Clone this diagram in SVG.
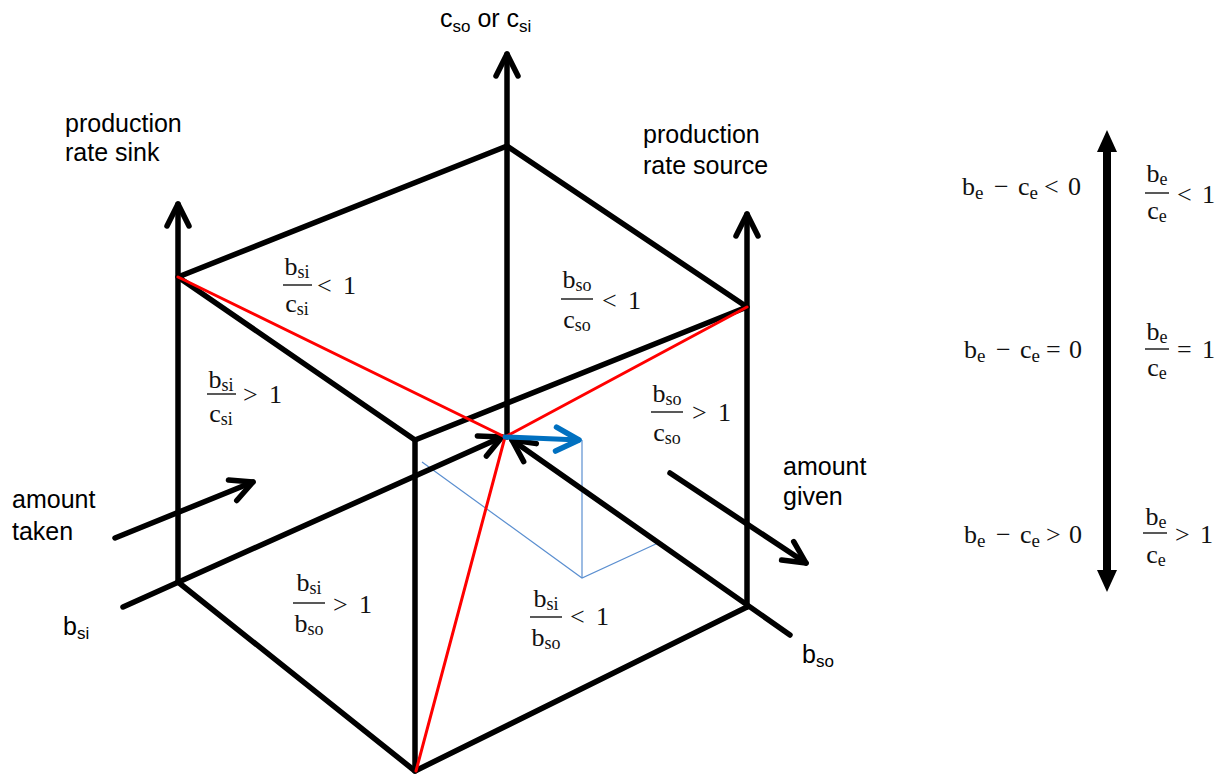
<svg xmlns="http://www.w3.org/2000/svg" width="1226" height="774" viewBox="0 0 1226 774">
<style>
.ln{stroke:#000;stroke-width:5.5;fill:none;stroke-linecap:round;stroke-linejoin:round}
.red{stroke:#FF0000;stroke-width:3;fill:none;stroke-linecap:round}
.blue{stroke:#0070C0;stroke-width:5;fill:none;stroke-linecap:round}
.thin{stroke:#5B8FD0;stroke-width:1.2;fill:none}
.sans{font-family:"Liberation Sans",Arial,sans-serif;font-size:25px;fill:#000}
.m{font-family:"Liberation Serif","Times New Roman",serif;font-size:26px;fill:#111}
.bar{stroke:#222;stroke-width:1.5}
</style>
<defs>
<marker id="chev" markerUnits="userSpaceOnUse" orient="auto" refX="0" refY="0" markerWidth="40" markerHeight="40" overflow="visible">
<path d="M-22,-11 L0,0 L-22,11" fill="none" stroke="#000" stroke-width="5.5" stroke-linecap="round" stroke-linejoin="round"/>
</marker>
<marker id="chevb" markerUnits="userSpaceOnUse" orient="auto" refX="0" refY="0" markerWidth="40" markerHeight="40" overflow="visible">
<path d="M-23,-12 L0,0 L-23,12" fill="none" stroke="#0070C0" stroke-width="5.5" stroke-linecap="round" stroke-linejoin="round"/>
</marker>
<marker id="tri" markerUnits="userSpaceOnUse" orient="auto-start-reverse" refX="0" refY="0" markerWidth="40" markerHeight="40" overflow="visible">
<path d="M20,0 L-2,-10 L-2,10 Z" fill="#000"/>
</marker>
</defs>

<g id="connectors">
<polyline class="thin" points="422,462 582,578 658,543"/>
<line class="thin" x1="582" y1="440" x2="582" y2="578"/>
<line class="ln" x1="507" y1="437" x2="507" y2="54" marker-end="url(#chev)"/>
<line class="ln" x1="178" y1="582" x2="178" y2="204" marker-end="url(#chev)"/>
<line class="ln" x1="747" y1="607" x2="747" y2="214" marker-end="url(#chev)"/>
<line class="ln" x1="123" y1="607" x2="502" y2="437" marker-end="url(#chev)"/>
<line class="ln" x1="790" y1="635" x2="512" y2="440" marker-end="url(#chev)"/>
<polygon class="ln" points="507,146 178,277 415,440 747,307"/>
<line class="ln" x1="415" y1="440" x2="415" y2="771"/>
<polyline class="ln" points="178,582 415,771 747,607"/>
<line class="red" x1="178" y1="277" x2="505" y2="437"/>
<line class="red" x1="747" y1="307" x2="505" y2="437"/>
<line class="red" x1="416" y1="771" x2="505" y2="437"/>
<line class="blue" x1="505" y1="437" x2="579" y2="440" marker-end="url(#chevb)"/>
<line class="ln" x1="115" y1="538" x2="253" y2="482" marker-end="url(#chev)"/>
<line class="ln" x1="670" y1="473" x2="806" y2="563" marker-end="url(#chev)"/>
<line x1="1107" y1="150" x2="1107" y2="572" stroke="#000" stroke-width="8" marker-start="url(#tri)" marker-end="url(#tri)"/>
</g>

<g id="axis-labels">
<text class="sans" x="440" y="27">c<tspan font-size="17" dy="5">so</tspan><tspan dy="-5"> or c</tspan><tspan font-size="17" dy="5">si</tspan></text>
<text class="sans" x="65" y="132">production</text>
<text class="sans" x="65" y="161">rate sink</text>
<text class="sans" x="643" y="143">production</text>
<text class="sans" x="643" y="174">rate source</text>
<text class="sans" x="12" y="508">amount</text>
<text class="sans" x="12" y="540">taken</text>
<text class="sans" x="783" y="475">amount</text>
<text class="sans" x="783" y="505">given</text>
<text class="sans" x="63" y="635">b<tspan font-size="17" dy="4">si</tspan></text>
<text class="sans" x="802" y="663">b<tspan font-size="17" dy="4">so</tspan></text>
</g>

<g id="frac-top-left">
<text class="m" x="297" y="275" text-anchor="middle">b<tspan font-size="18" dy="3">si</tspan></text>
<line class="bar" x1="283" y1="285" x2="312" y2="285"/>
<text class="m" x="297" y="312" text-anchor="middle">c<tspan font-size="18" dy="3">si</tspan></text>
<text class="m" y="294"><tspan x="317">&lt;</tspan><tspan x="343">1</tspan></text>
</g>
<g id="frac-left">
<text class="m" x="221" y="388" text-anchor="middle">b<tspan font-size="18" dy="3">si</tspan></text>
<line class="bar" x1="207" y1="394" x2="236" y2="394"/>
<text class="m" x="221" y="422" text-anchor="middle">c<tspan font-size="18" dy="3">si</tspan></text>
<text class="m" y="403"><tspan x="243">&gt;</tspan><tspan x="269">1</tspan></text>
</g>
<g id="frac-top-right">
<text class="m" x="577" y="288" text-anchor="middle">b<tspan font-size="18" dy="3">so</tspan></text>
<line class="bar" x1="561" y1="299" x2="593" y2="299"/>
<text class="m" x="577" y="328" text-anchor="middle">c<tspan font-size="18" dy="3">so</tspan></text>
<text class="m" y="309"><tspan x="602">&lt;</tspan><tspan x="628">1</tspan></text>
</g>
<g id="frac-right">
<text class="m" x="667" y="402" text-anchor="middle">b<tspan font-size="18" dy="3">so</tspan></text>
<line class="bar" x1="651" y1="412" x2="683" y2="412"/>
<text class="m" x="667" y="441" text-anchor="middle">c<tspan font-size="18" dy="3">so</tspan></text>
<text class="m" y="421"><tspan x="692">&gt;</tspan><tspan x="718">1</tspan></text>
</g>
<g id="frac-bottom-left">
<text class="m" x="309" y="591" text-anchor="middle">b<tspan font-size="18" dy="3">si</tspan></text>
<line class="bar" x1="293" y1="603" x2="325" y2="603"/>
<text class="m" x="309" y="632" text-anchor="middle">b<tspan font-size="18" dy="3">so</tspan></text>
<text class="m" y="613"><tspan x="333">&gt;</tspan><tspan x="359">1</tspan></text>
</g>
<g id="frac-bottom-right">
<text class="m" x="546" y="607" text-anchor="middle">b<tspan font-size="18" dy="3">si</tspan></text>
<line class="bar" x1="530" y1="617" x2="562" y2="617"/>
<text class="m" x="546" y="646" text-anchor="middle">b<tspan font-size="18" dy="3">so</tspan></text>
<text class="m" y="625"><tspan x="570">&lt;</tspan><tspan x="596">1</tspan></text>
</g>

<g id="legend-top">
<text class="m" y="195" font-size="27"><tspan x="962">b</tspan><tspan font-size="19" dy="4">e</tspan><tspan x="994" dy="-4">−</tspan><tspan x="1018">c</tspan><tspan font-size="19" dy="4">e</tspan><tspan x="1044" dy="-4">&lt;</tspan><tspan x="1068">0</tspan></text>
<text class="m" x="1157" y="182" text-anchor="middle">b<tspan font-size="18" dy="3">e</tspan></text>
<line class="bar" x1="1145" y1="193" x2="1169" y2="193"/>
<text class="m" x="1157" y="219" text-anchor="middle">c<tspan font-size="18" dy="3">e</tspan></text>
<text class="m" y="203"><tspan x="1177">&lt;</tspan><tspan x="1202">1</tspan></text>
</g>
<g id="legend-mid">
<text class="m" y="358" font-size="27"><tspan x="964">b</tspan><tspan font-size="19" dy="4">e</tspan><tspan x="996" dy="-4">−</tspan><tspan x="1020">c</tspan><tspan font-size="19" dy="4">e</tspan><tspan x="1046" dy="-4">=</tspan><tspan x="1069">0</tspan></text>
<text class="m" x="1157" y="340" text-anchor="middle">b<tspan font-size="18" dy="3">e</tspan></text>
<line class="bar" x1="1145" y1="349" x2="1169" y2="349"/>
<text class="m" x="1157" y="376" text-anchor="middle">c<tspan font-size="18" dy="3">e</tspan></text>
<text class="m" y="358"><tspan x="1177">=</tspan><tspan x="1202">1</tspan></text>
</g>
<g id="legend-bottom">
<text class="m" y="543" font-size="27"><tspan x="964">b</tspan><tspan font-size="19" dy="4">e</tspan><tspan x="996" dy="-4">−</tspan><tspan x="1020">c</tspan><tspan font-size="19" dy="4">e</tspan><tspan x="1046" dy="-4">&gt;</tspan><tspan x="1069">0</tspan></text>
<text class="m" x="1156" y="525" text-anchor="middle">b<tspan font-size="18" dy="3">e</tspan></text>
<line class="bar" x1="1143" y1="533" x2="1167" y2="533"/>
<text class="m" x="1156" y="563" text-anchor="middle">c<tspan font-size="18" dy="3">e</tspan></text>
<text class="m" y="543"><tspan x="1175">&gt;</tspan><tspan x="1200">1</tspan></text>
</g>
</svg>
